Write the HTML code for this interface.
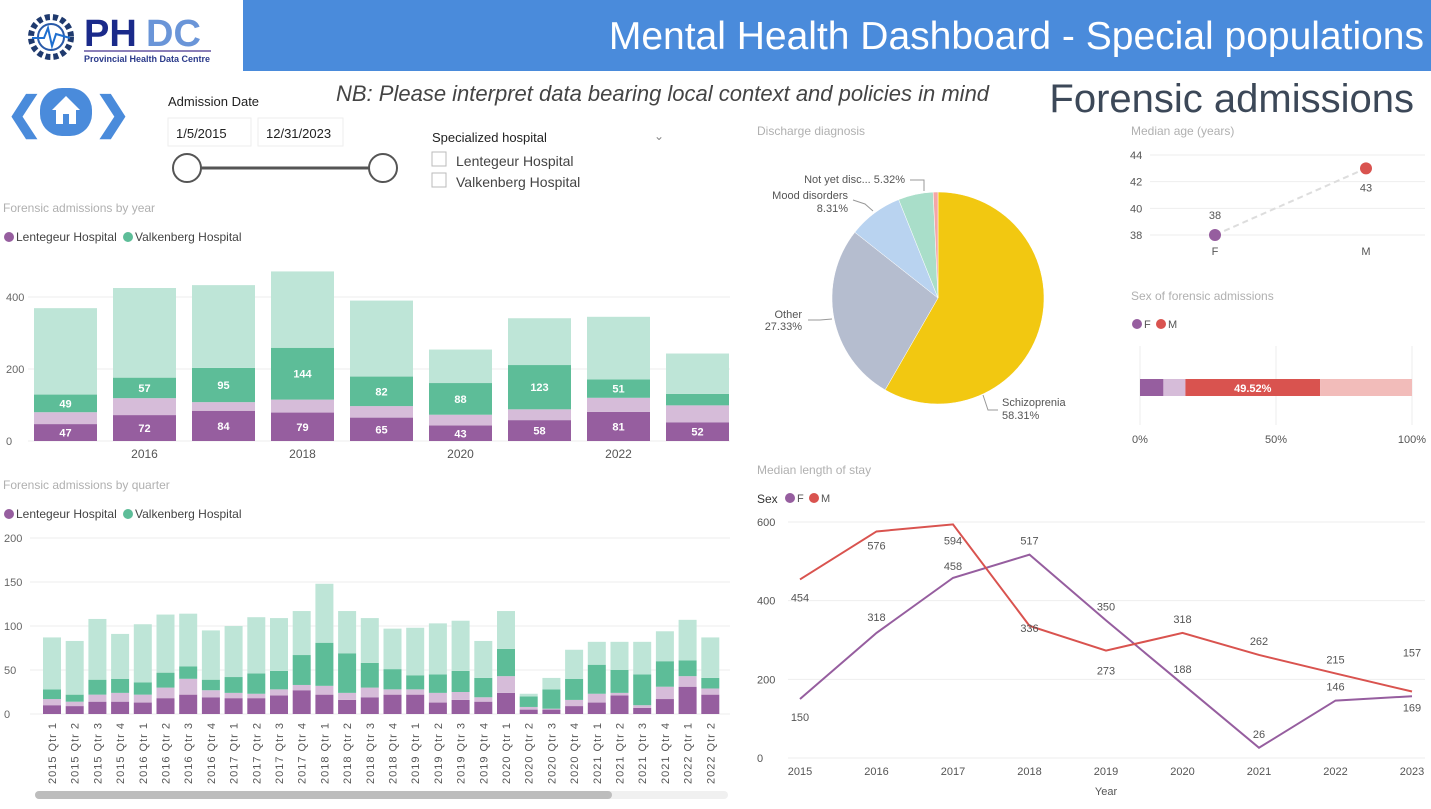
<!DOCTYPE html>
<html><head><meta charset="utf-8">
<style>
body{margin:0;width:1431px;height:804px;overflow:hidden;background:#fff;font-family:"Liberation Sans",sans-serif;}
svg text{font-family:"Liberation Sans",sans-serif;}
</style></head>
<body>
<svg id="s" width="1431" height="804" xmlns="http://www.w3.org/2000/svg">
<rect x="243" y="0" width="1188" height="71" fill="#4A8BDB"/>
<text x="1424" y="49" text-anchor="end" font-size="39" fill="#fff">Mental Health Dashboard - Special populations</text>
<g>
<circle cx="51" cy="37" r="20" fill="none" stroke="#1f3a6e" stroke-width="6" stroke-dasharray="5 3"/>
<circle cx="51" cy="37" r="13" fill="#fff" stroke="#2a5aa8" stroke-width="2"/>
<polyline points="32,38 44,38 48,28 52,46 56,34 70,38" fill="none" stroke="#1e6fd0" stroke-width="2"/>
<text x="84" y="46" font-size="38" font-weight="bold" fill="#1a2a8a">PH</text>
<text x="146" y="46" font-size="38" font-weight="bold" fill="#6a95d8">DC</text>
<rect x="84" y="50" width="127" height="2" fill="#8a7fb8"/>
<text x="84" y="62" font-size="9" font-weight="bold" fill="#2a3a8a">Provincial Health Data Centre</text>
</g>
<g>
<text x="6" y="128" font-size="44" font-weight="bold" fill="#4A8BDB">❮</text>
<rect x="40" y="88" width="52" height="48" rx="22" fill="#4A8BDB"/>
<polygon points="66,96 52,110 56,110 56,124 76,124 76,110 80,110" fill="#fff"/>
<rect x="63" y="114" width="6" height="10" fill="#4A8BDB"/>
<text x="94" y="128" font-size="44" font-weight="bold" fill="#4A8BDB">❯</text>
</g>
<text x="336" y="101" font-size="22" font-style="italic" fill="#444">NB: Please interpret data bearing local context and policies in mind</text>
<text x="1414" y="112" text-anchor="end" font-size="40" fill="#3c4858">Forensic admissions</text>
<text x="168" y="106" font-size="13" fill="#222">Admission Date</text>
<rect x="168" y="118" width="83" height="28" fill="#fff" stroke="#eee"/>
<text x="176" y="138" font-size="13" fill="#222">1/5/2015</text>
<rect x="258" y="118" width="85" height="28" fill="#fff" stroke="#eee"/>
<text x="266" y="138" font-size="13" fill="#222">12/31/2023</text>
<line x1="200" y1="168" x2="370" y2="168" stroke="#555" stroke-width="3"/>
<circle cx="187" cy="168" r="14" fill="#fff" stroke="#555" stroke-width="2"/>
<circle cx="383" cy="168" r="14" fill="#fff" stroke="#555" stroke-width="2"/>
<text x="432" y="142" font-size="13" fill="#222">Specialized hospital</text>
<text x="654" y="140" font-size="12" fill="#888">⌄</text>
<rect x="432" y="152" width="14" height="14" fill="#fff" stroke="#bbb"/>
<text x="456" y="166" font-size="14" fill="#444">Lentegeur Hospital</text>
<rect x="432" y="173" width="14" height="14" fill="#fff" stroke="#bbb"/>
<text x="456" y="187" font-size="14" fill="#444">Valkenberg Hospital</text>
<text x="3" y="212" font-size="12" fill="#b0b0b0">Forensic admissions by year</text>
<g>
<circle cx="9" cy="237" r="5" fill="#965E9F"/><text x="16" y="241" font-size="12" fill="#444">Lentegeur Hospital</text>
<circle cx="128" cy="237" r="5" fill="#5DBD98"/><text x="135" y="241" font-size="12" fill="#444">Valkenberg Hospital</text>
</g>
<text x="3" y="489" font-size="12" fill="#b0b0b0">Forensic admissions by quarter</text>
<g>
<circle cx="9" cy="514" r="5" fill="#965E9F"/><text x="16" y="518" font-size="12" fill="#444">Lentegeur Hospital</text>
<circle cx="128" cy="514" r="5" fill="#5DBD98"/><text x="135" y="518" font-size="12" fill="#444">Valkenberg Hospital</text>
</g>
<rect x="35" y="791" width="693" height="8" rx="4" fill="#f0f0f0"/>
<rect x="35" y="791" width="577" height="8" rx="4" fill="#bdbdbd"/>
<text x="757" y="135" font-size="12" fill="#b0b0b0">Discharge diagnosis</text>
<text x="1131" y="135" font-size="12" fill="#b0b0b0">Median age (years)</text>
<text x="1131" y="300" font-size="12" fill="#b0b0b0">Sex of forensic admissions</text>
<g>
<circle cx="1137" cy="324" r="5" fill="#965E9F"/><text x="1144" y="328" font-size="11" fill="#555">F</text>
<circle cx="1161" cy="324" r="5" fill="#D9534F"/><text x="1168" y="328" font-size="11" fill="#555">M</text>
</g>
<text x="757" y="474" font-size="12" fill="#b0b0b0">Median length of stay</text>
<g>
<text x="757" y="503" font-size="12" fill="#333">Sex</text>
<circle cx="790" cy="498" r="5" fill="#965E9F"/><text x="797" y="502" font-size="11" fill="#555">F</text>
<circle cx="814" cy="498" r="5" fill="#D9534F"/><text x="821" y="502" font-size="11" fill="#555">M</text>
</g>
<g id="charts"></g>
</svg>
<script>
const years=[2015,2016,2017,2018,2019,2020,2021,2022,2023];
const yearTicks=[0,200,400];
const yrLentDark=[47,72,84,79,65,43,58,81,52];
const yrLentLight=[33,47,24,36,32,30,30,39,47];
const yrValkDark=[49,57,95,144,82,88,123,51,32];
const yrValkLight=[240,249,230,212,211,93,130,174,112];
const quarters=["2015 Qtr 1","2015 Qtr 2","2015 Qtr 3","2015 Qtr 4","2016 Qtr 1","2016 Qtr 2","2016 Qtr 3","2016 Qtr 4","2017 Qtr 1","2017 Qtr 2","2017 Qtr 3","2017 Qtr 4","2018 Qtr 1","2018 Qtr 2","2018 Qtr 3","2018 Qtr 4","2019 Qtr 1","2019 Qtr 2","2019 Qtr 3","2019 Qtr 4","2020 Qtr 1","2020 Qtr 2","2020 Qtr 3","2020 Qtr 4","2021 Qtr 1","2021 Qtr 2","2021 Qtr 3","2021 Qtr 4","2022 Qtr 1","2022 Qtr 2"];
const qTicks=[0,50,100,150,200];
const qLentDark=[10,9,14,14,13,18,22,19,18,18,21,27,22,16,19,22,22,13,16,14,24,5,5,9,13,21,7,17,31,22];
const qLentLight=[7,5,8,10,9,12,18,8,6,5,7,6,10,8,11,6,6,11,9,5,19,3,1,7,10,3,3,14,12,7];
const qValkDark=[11,8,17,16,14,17,14,12,18,23,21,34,49,45,28,23,16,21,24,22,31,12,22,24,33,26,35,29,18,12];
const qValkLight=[59,61,69,51,66,66,60,56,58,64,60,50,67,48,51,46,54,58,57,42,43,3,13,33,26,32,37,34,46,46];
const pieLabels=["Schizoprenia","Other","Mood disorders","Not yet disc...","Unknown"];
const pieValues=[58.31,27.33,8.31,5.32,0.73];
const ageCats=["F","M"];
const ageValues=[38,43];
const ageTicks=[38,40,42,44];
const sexSegments=[8.6,8.1,49.52,33.78];
const sexTicks=[0,50,100];
const losYears=[2015,2016,2017,2018,2019,2020,2021,2022,2023];
const losF=[150,318,458,517,350,188,26,146,157];
const losM=[454,576,594,336,273,318,262,215,169];
const losTicks=[0,200,400,600];

const NS="http://www.w3.org/2000/svg";
const root=document.getElementById('charts');
function mk(tag,attrs,parent){const e=document.createElementNS(NS,tag);for(const k in attrs)e.setAttribute(k,attrs[k]);(parent||root).appendChild(e);return e;}
function txt(x,y,s,size,fill,anchor,parent,extra){const t=mk('text',Object.assign({x:x,y:y,'font-size':size,fill:fill,'text-anchor':anchor||'start'},extra||{}),parent);t.textContent=s;return t;}
const C={pd:"#965E9F",pl:"#D6BCD9",gd:"#5DBD98",gl:"#BEE5D7",red:"#D9534F",pink:"#F2BCBA"};

(function(){
 const g=mk('g',{});
 
 
 const y0=441,sc=0.36,x0=34,step=79,bw=63;
 const Y=v=>y0-v*sc, X=i=>x0+i*step;
 yearTicks.forEach(t=>{mk('line',{x1:28,x2:730,y1:Y(t),y2:Y(t),stroke:'#eee'},g);txt(6,Y(t)+4,t,11,'#666','start',g);});
 years.forEach((yr,i)=>{
  let base=0;
  [[yrLentDark,C.pd],[yrLentLight,C.pl],[yrValkDark,C.gd],[yrValkLight,C.gl]].forEach((s,k)=>{
   const v=s[0][i];
   const r=mk('rect',{x:X(i),y:Y(base+v),width:bw,height:v*sc,fill:s[1]},g);
   
   
   if((k==0||k==2)&&v>=40) txt(X(i)+bw/2,Y(base+v/2)+4,v,11,'#fff','middle',g,{'font-weight':'bold'});
   base+=v;
  });
  if(yr%2==0) txt(X(i)+bw/2,458,yr,12,'#555','middle',g);
 });
})();

(function(){
 const g=mk('g',{});
 
 
 const y0=714,sc=0.88,x0=43,step=22.7,bw=18;
 const Y=v=>y0-v*sc, X=i=>x0+i*step;
 qTicks.forEach(t=>{mk('line',{x1:30,x2:730,y1:Y(t),y2:Y(t),stroke:'#eee'},g);txt(4,Y(t)+4,t,11,'#666','start',g);});
 quarters.forEach((q,i)=>{
  let base=0;
  [[qLentDark,C.pd],[qLentLight,C.pl],[qValkDark,C.gd],[qValkLight,C.gl]].forEach((s,k)=>{
   const v=s[0][i];
   const r=mk('rect',{x:X(i),y:Y(base+v),width:bw,height:v*sc,fill:s[1]},g);
   
   
   base+=v;
  });
  const cx=X(i)+bw/2+4;
  txt(cx,722,q,11,'#555','end',g,{transform:'rotate(-90 '+cx+' 722)','letter-spacing':'1'});
 });
})();

(function(){
 const g=mk('g',{});
 
 
 const cx=938,cy=298,r=106,cols=["#F2C811","#B5BDCF","#B9D3F0","#A9DEC9","#F4A6A6"];
 const tot=pieValues.reduce((a,b)=>a+b,0);
 let a=-Math.PI/2;
 pieValues.forEach((v,i)=>{
  const da=v/tot*2*Math.PI,a2=a+da;
  const p=mk('path',{d:`M${cx},${cy}L${cx+r*Math.cos(a)},${cy+r*Math.sin(a)}A${r},${r} 0 ${da>Math.PI?1:0} 1 ${cx+r*Math.cos(a2)},${cy+r*Math.sin(a2)}Z`,fill:cols[i],stroke:'#fff','stroke-width':0.5},g);
  
  
  a=a2;
 });
 const lc='#999';
 mk('polyline',{points:'983,395 988,410 998,410',fill:'none',stroke:lc},g);
 txt(1002,406,pieLabels[0],11,'#555','start',g);txt(1002,419,pieValues[0].toFixed(2)+'%',11,'#555','start',g);
 mk('polyline',{points:'832,319 820,320 808,320',fill:'none',stroke:lc},g);
 txt(802,318,pieLabels[1],11,'#555','end',g);txt(802,330,pieValues[1].toFixed(2)+'%',11,'#555','end',g);
 mk('polyline',{points:'873,211 865,204 853,200',fill:'none',stroke:lc},g);
 txt(848,199,pieLabels[2],11,'#555','end',g);txt(848,212,pieValues[2].toFixed(2)+'%',11,'#555','end',g);
 mk('polyline',{points:'924,191 924,180 910,180',fill:'none',stroke:lc},g);
 txt(905,183,pieLabels[3]+' '+pieValues[3].toFixed(2)+'%',11,'#555','end',g);
})();

(function(){
 const g=mk('g',{});
 
 
 const Y=v=>235-(v-38)*13.33, xs=[1215,1366];
 ageTicks.forEach(t=>{mk('line',{x1:1150,x2:1425,y1:Y(t),y2:Y(t),stroke:'#eee'},g);txt(1130,Y(t)+4,t,11,'#555','start',g);});
 mk('line',{x1:xs[0],y1:Y(ageValues[0]),x2:xs[1],y2:Y(ageValues[1]),stroke:'#ddd','stroke-width':2,'stroke-dasharray':'6 4'},g);
 ageCats.forEach((c,i)=>{
  const p=mk('circle',{cx:xs[i],cy:Y(ageValues[i]),r:6,fill:i?C.red:C.pd},g);
  
  
  txt(xs[i],i?Y(ageValues[i])+23:Y(ageValues[i])-16,ageValues[i],11,'#555','middle',g);
  txt(xs[i],255,c,11,'#555','middle',g);
 });
})();

(function(){
 const g=mk('g',{});
 
 
 const X=v=>1140+v*2.72, cols=[C.pd,C.pl,C.red,C.pink];
 sexTicks.forEach(t=>{mk('line',{x1:X(t),x2:X(t),y1:346,y2:425,stroke:'#eee'},g);txt(X(t),443,t+'%',11,'#555','middle',g);});
 let b=0;
 sexSegments.forEach((v,i)=>{
  const r=mk('rect',{x:X(b),y:379,width:v*2.72,height:17,fill:cols[i]},g);
  
  
  if(i==2) txt(X(b+v/2),392,v.toFixed(2)+'%',11,'#fff','middle',g,{'font-weight':'bold'});
  b+=v;
 });
})();

(function(){
 const g=mk('g',{});
 
 
 const X=i=>800+i*76.5, Y=v=>758-v*0.3933;
 losTicks.forEach(t=>{mk('line',{x1:788,x2:1425,y1:Y(t),y2:Y(t),stroke:'#eee'},g);txt(757,Y(t)+4,t,11,'#555','start',g);});
 losYears.forEach((y,i)=>txt(X(i),775,y,11,'#555','middle',g));
 txt(1106,795,'Year',11,'#555','middle',g);
 const fdy=[18,-16,-12,-14,-14,-15,-14,-14,-44];
 const mdy=[18,14,16,2,20,-14,-14,-14,16];
 [[losF,C.pd,'F'],[losM,C.red,'M']].forEach(s=>{
  const l=mk('polyline',{points:s[0].map((v,i)=>X(i)+','+Y(v)).join(' '),fill:'none',stroke:s[1],'stroke-width':2},g);
  
  
 });
 [[losF,fdy],[losM,mdy]].forEach(s=>s[0].forEach((v,i)=>txt(X(i),Y(v)+s[1][i]+4,v,11,'#555','middle',g)));
})();
</script>
</body></html>
